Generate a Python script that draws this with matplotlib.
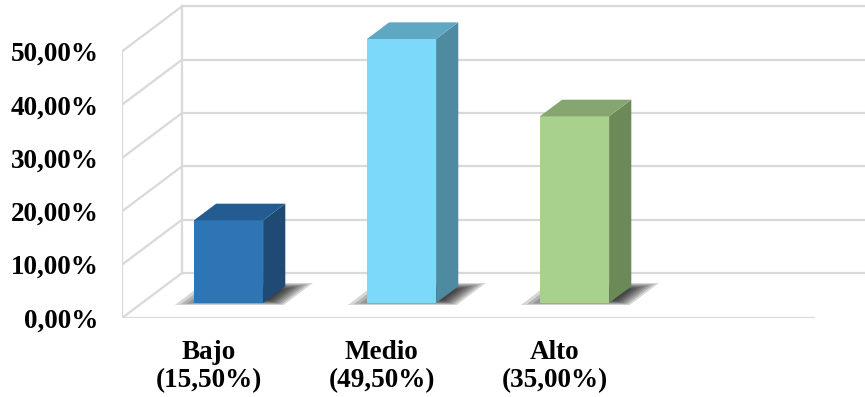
import numpy as np
from matplotlib import pyplot as plt
from matplotlib.patches import Polygon

# data
categories = ["Bajo", "Medio", "Alto"]
values = [15.50, 49.50, 35.00]
n_slots = 4  # excel keeps an empty 4th slot on the floor
y_ticks = [0, 10, 20, 30, 40, 50]

front_colors = ["#2E75B6", "#7DD9F9", "#A9D18E"]
side_colors = ["#1F4A74", "#4F8BA0", "#6B8A57"]
top_colors = ["#245C91", "#5FA8C2", "#86A66F"]
grid_color = "#D9D9D9"

plt.rcParams['font.family'] = ['Liberation Serif', 'DejaVu Serif']

fig = plt.figure(figsize=(8.65, 3.97), dpi=100)
W, H = 865, 397
x0_px, y0_px = 122, 318
px_per_x = 173.0
px_per_y = 5.333
ax = fig.add_axes([x0_px / W, (H - y0_px) / H, (W - x0_px) / W, y0_px / H])
ax.set_xlim(0, (W - x0_px) / px_per_x)
ax.set_ylim(0, y0_px / px_per_y)
for s in ax.spines.values():
    s.set_visible(False)

# depth of the 3d box (data units)
dx = 60 / px_per_x
dy = 45 / px_per_y
xmax = ax.get_xlim()[1]

# walls / gridlines
lw = 1.6
ax.plot([0, 0], [0, y_ticks[-1]], color=grid_color, lw=lw, zorder=1)
ax.plot([dx, dx], [dy, y_ticks[-1] + dy], color=grid_color, lw=lw, zorder=1)
for t in y_ticks:
    ax.plot([0, dx], [t, t + dy], color=grid_color, lw=lw, zorder=1)
    ax.plot([dx, xmax], [t + dy, t + dy], color=grid_color, lw=lw, zorder=1)
ax.plot([0, n_slots], [0, 0], color=grid_color, lw=lw, zorder=1)

# bars
centers = np.arange(len(categories)) + 0.5
bar_w = 0.4
d0 = 1 / 3
d1 = 0.37
fx, fy = dx * d0, dy * d0
bx, by = dx * d1, dy * d1

for i, (c, v) in enumerate(zip(centers, values)):
    xl = c + fx - bar_w / 2
    xr = c + fx + bar_w / 2
    # soft shadow on the floor: stacked shrinking parallelograms
    sb, st = fy - 0.37, fy + 3.75
    shift = 0.168
    base = np.array([(xl - 0.11, sb), (xr + 0.12, sb),
                     (xr + 0.12 + shift, st), (xl - 0.11 + shift, st)])
    cx = base[:, 0].mean() + 0.06
    cy = base[:, 1].mean() - 0.3
    for s in np.linspace(1.0, 0.4, 9):
        pts = np.column_stack([cx + (base[:, 0] - cx) * s,
                               cy + (base[:, 1] - cy) * s])
        ax.add_patch(Polygon(pts, closed=True, color="#000000", alpha=0.16,
                             lw=0, zorder=2))
    ax.bar(c + fx, v, bar_w, bottom=fy, color=front_colors[i], zorder=3)
    side = [(xr, fy), (xr + bx, fy + by), (xr + bx, fy + by + v), (xr, fy + v)]
    top = [(xl, fy + v), (xr, fy + v), (xr + bx, fy + by + v), (xl + bx, fy + by + v)]
    ax.add_patch(Polygon(side, closed=True, color=side_colors[i], lw=0, zorder=3))
    ax.add_patch(Polygon(top, closed=True, color=top_colors[i], lw=0, zorder=3))

# labels
ax.set_yticks(y_ticks, [f"{t:.2f}".replace('.', ',') + '%' for t in y_ticks],
              fontsize=19.5, fontweight='bold')
ax.set_xticks(centers, [f"{c}\n({v:.2f}%)".replace('.', ',') for c, v in zip(categories, values)],
              fontsize=19.5, fontweight='bold', linespacing=1.15)
ax.tick_params(axis='y', length=0, pad=17)
ax.tick_params(axis='x', length=0, pad=16)

plt.savefig("out.png", dpi=100)
